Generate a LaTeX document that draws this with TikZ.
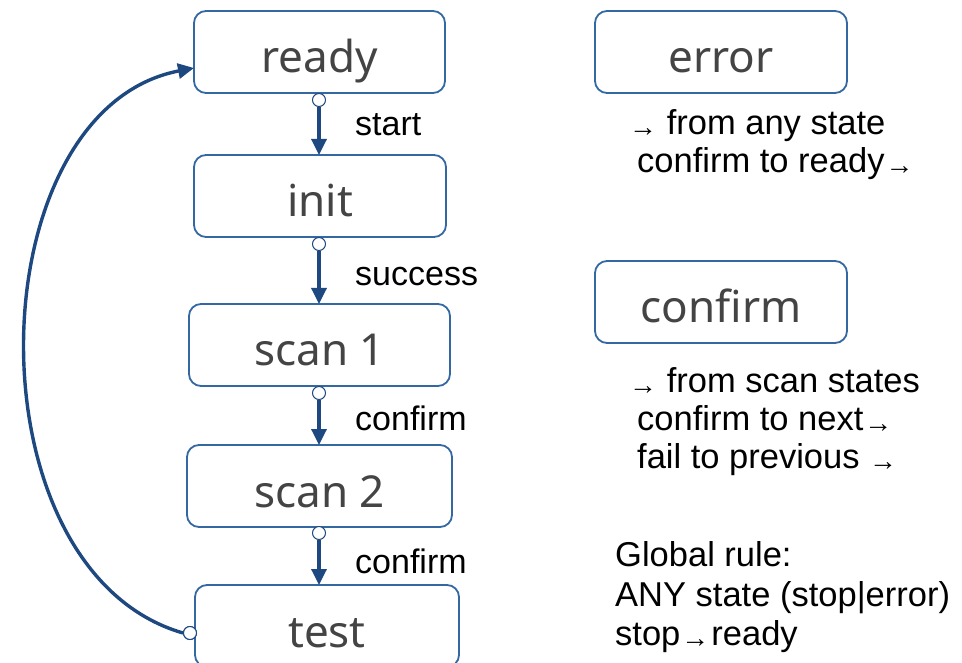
\documentclass[tikz,border=0pt]{standalone}
\usepackage{fontspec}
\setmainfont{Liberation Sans}
\newfontfamily\statefont{Noto Sans}
\usetikzlibrary{arrows.meta}
\definecolor{boxline}{RGB}{52,104,163}
\definecolor{flow}{RGB}{30,72,128}
\definecolor{statetext}{RGB}{68,68,68}
\tikzset{
  x=1pt, y=-1pt,
  statebox/.style={draw=boxline, line width=1.8pt, rounded corners=12pt, fill=white,
    minimum height=82pt, inner sep=0pt, text height=42pt, text depth=0pt,
    font=\statefont\fontsize{44}{50}\selectfont, text=statetext},
  flowarrow/.style={draw=flow, line width=3.4pt, -{Triangle[length=16pt,width=15pt]}},
  loopline/.style={draw=flow, line width=3.4pt, -{Triangle[length=16pt,width=15pt]}},
  startdot/.style={circle, draw=flow, line width=1pt, fill=white, minimum size=13pt, inner sep=0pt},
  edgelabel/.style={anchor=base west, inner sep=0pt, font=\fontsize{34}{40}\selectfont},
  notetext/.style={anchor=base west, inner sep=0pt, font=\fontsize{34.5}{40}\selectfont}
}
\newcommand{\sarr}{{\fontsize{28}{32}\selectfont\raisebox{-2pt}{→}}}
\begin{document}
\begin{tikzpicture}
\useasboundingbox (0,0) rectangle (962,663);

% state boxes
\node[statebox, minimum width=251pt] (ready) at (319.5,52) {ready};
\node[statebox, minimum width=252pt] (init)  at (320,196) {init};
\node[statebox, minimum width=261pt] (scan1) at (319.5,345) {scan 1};
\node[statebox, minimum width=265pt] (scan2) at (319.5,486) {scan 2};
\node[statebox, minimum width=264pt] (test)  at (327,626) {test};
\node[statebox, minimum width=252pt] (error) at (721,52) {error};
\node[statebox, minimum width=252pt] (confirm) at (721,302) {confirm};

% start markers of the transitions
\node[startdot] (d1) at (319,100) {};
\node[startdot] (d2) at (319,244) {};
\node[startdot] (d3) at (319,393) {};
\node[startdot] (d4) at (319,533) {};
\node[startdot] (d5) at (190,633) {};

\coordinate (t1) at (319,155);
\coordinate (t2) at (319,304);
\coordinate (t3) at (319,445);
\coordinate (t4) at (319,585);
\coordinate (back) at (194,68);

% transitions
\draw[flowarrow] (d1.south) -- (t1);
\draw[flowarrow] (d2.south) -- (t2);
\draw[flowarrow] (d3.south) -- (t3);
\draw[flowarrow] (d4.south) -- (t4);
\draw[loopline] (d5.west) .. controls (-34,570) and (-24,110) .. (back);
\node[startdot] at (d5) {};

% transition labels
\node[edgelabel] (l1) at (355,136) {start};
\node[edgelabel] (l2) at (355,286) {success};
\node[edgelabel] (l3) at (355,430) {confirm};
\node[edgelabel] (l4) at (355,573) {confirm};

% notes
\node[notetext] (n1) at (629,135) {\sarr\ from any state};
\node[notetext] (n2) at (637,173) {confirm to ready\hspace{1pt}\sarr};
\node[notetext] (n3) at (629,392) {\sarr\ from scan states};
\node[notetext] (n4) at (637,430) {confirm to next\hspace{1pt}\sarr};
\node[notetext] (n5) at (637,468) {fail to previous \sarr};
\node[notetext] (g1) at (615,566) {Global rule:};
\node[notetext] (g2) at (615,606) {ANY state (stop|error)};
\node[notetext] (g3) at (615,645) {stop\hspace{1pt}\sarr\hspace{2pt}ready};
\end{tikzpicture}
\end{document}
